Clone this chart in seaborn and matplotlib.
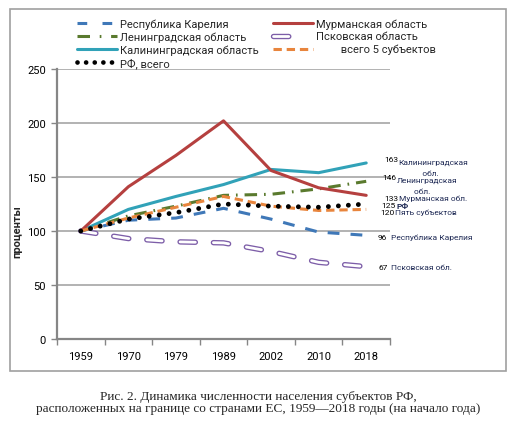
import numpy as np
import pandas as pd
import matplotlib
matplotlib.use("Agg")
import matplotlib.pyplot as plt
from matplotlib.lines import Line2D
from matplotlib.patches import Rectangle
import seaborn as sns

# -------------------------------
# Data (1959 = 100)
# -------------------------------
years = ["1959", "1970", "1979", "1989", "2002", "2010", "2018"]

karelia = [100, 110, 112, 121, 111, 99, 96]
murmansk = [100, 141, 170, 202, 156, 140, 133]
leningrad = [100, 114, 123, 133, 134, 139, 146]
pskov = [100, 93, 90, 89, 81, 71, 67]
kaliningrad = [100, 120, 132, 143, 157, 154, 163]
total5 = [100, 112, 122, 132, 123, 119, 120]
rf = [100, 111, 117, 125, 123, 122, 125]

end_numbers = ["163", "146", "133", "125", "120", "96", "67"]
end_names = ["Калининградская\n           обл.", "Ленинградская\n        обл.",
             "Мурманская обл.", "РФ", "Пять субъектов",
             "Республика Карелия", "Псковская обл."]

# -------------------------------
# Style
# -------------------------------
sns.set_style("white")
plt.rcParams["font.family"] = ["Roboto", "DejaVu Sans"]
plt.rcParams["lines.scale_dashes"] = False

c_blue = "#3f78b8"
c_red = "#b5403f"
c_green = "#5a7a2e"
c_purple = "#7d5ea8"
c_teal = "#31a2b8"
c_orange = "#e8853d"

LW = 2.2

fig = plt.figure(figsize=(5.17, 4.27), dpi=100)
ax = fig.add_axes([57 / 517, 1 - 340 / 427, 333 / 517, 270 / 427])

x = np.arange(len(years))

# Псковская: hollow dashes (purple outline, white core)
sns.lineplot(x=x, y=pskov, ax=ax, color=c_purple, lw=3.9,
             linestyle=(0, (11, 13)), dash_capstyle="round", zorder=2)
sns.lineplot(x=x, y=pskov, ax=ax, color="white", lw=2.0,
             linestyle=(0, (11, 13)), dash_capstyle="round", zorder=2.1)
sns.lineplot(x=x, y=karelia, ax=ax, color=c_blue, lw=LW,
             linestyle=(0, (8.5, 8)), zorder=3)
sns.lineplot(x=x, y=leningrad, ax=ax, color=c_green, lw=LW,
             linestyle=(0, (9, 5, 1.2, 5)), zorder=3)
sns.lineplot(x=x, y=kaliningrad, ax=ax, color=c_teal, lw=LW, zorder=3)
sns.lineplot(x=x, y=murmansk, ax=ax, color=c_red, lw=LW, zorder=3.5)
sns.lineplot(x=x, y=total5, ax=ax, color=c_orange, lw=LW,
             linestyle=(0, (6, 3.5)), zorder=4)
sns.lineplot(x=x, y=rf, ax=ax, color="black", lw=3.5,
             linestyle=(0, (0.01, 7.2)), dash_capstyle="round", zorder=5)

# -------------------------------
# Axes
# -------------------------------
ax.set_xlim(-0.5, len(years) - 0.5)
ax.set_ylim(0, 250)
ax.set_yticks(range(0, 251, 50))
ax.set_xticks(x)
ax.set_xticklabels(years)
ax.set_xticks(np.arange(-0.5, len(years), 1), minor=True)
ax.tick_params(axis="x", which="major", length=0, pad=9, labelsize=8, colors="black")
ax.tick_params(axis="x", which="minor", length=4, width=1, color="#868686", direction="out")
ax.tick_params(axis="y", length=4, width=1, color="#868686", direction="out",
               pad=4, labelsize=8, labelcolor="black")
ax.xaxis.set_ticks_position("bottom")
ax.yaxis.set_ticks_position("left")

ax.grid(axis="y", color="#a6a6a6", lw=1.2)
ax.set_axisbelow(True)
for side in ["top", "right"]:
    ax.spines[side].set_visible(False)
for side in ["left", "bottom"]:
    ax.spines[side].set_color("#868686")
    ax.spines[side].set_linewidth(1.6)
    ax.spines[side].set_zorder(6)

ax.set_xlabel("")
ax.set_ylabel("проценты", fontsize=8, fontweight="bold")
ax.yaxis.set_label_coords(-0.105, 0.40)

# -------------------------------
# Labels at the right
# -------------------------------
label_y = [166.5, 150, 130.5, 124, 117.5, 94.5, 66.5]
label_x = [6.37, 6.33, 6.37, 6.32, 6.29, 6.25, 6.25]
for i in range(len(end_numbers)):
    ax.text(label_x[i], label_y[i], end_numbers[i], fontsize=6, color="black",
            va="center", ha="left", clip_on=False, linespacing=1.9)
    ax.text(label_x[i] + 0.27 + 0.04 * (len(end_numbers[i]) - 2), label_y[i], end_names[i],
            fontsize=6, color="#1f2a55", va="top" if "\n" in end_names[i] else "center",
            ha="left", clip_on=False, linespacing=1.9,
            fontweight="bold" if end_names[i] == "РФ" else "normal")

# -------------------------------
# Legend
# -------------------------------
h_karelia = Line2D([], [], color=c_blue, lw=LW, linestyle=(0, (7, 11)))
h_murmansk = Line2D([], [], color=c_red, lw=LW)
h_leningrad = Line2D([], [], color=c_green, lw=LW, linestyle=(0, (9, 7, 1.2, 7)))
h_pskov = (Line2D([], [], color=c_purple, lw=3.9, linestyle=(0, (11, 19)), dash_capstyle="round"),
           Line2D([], [], color="white", lw=2.0, linestyle=(0, (11, 19)), dash_capstyle="round"))
h_kalin = Line2D([], [], color=c_teal, lw=LW)
h_total = Line2D([], [], color=c_orange, lw=LW, linestyle=(0, (6, 3.5)))
h_rf = Line2D([], [], color="black", lw=3.4, linestyle=(0, (0.01, 6.2)), dash_capstyle="round")

handles = [h_karelia, h_leningrad, h_kalin, h_rf, h_murmansk, h_pskov, h_total]
labels = ["Республика Карелия", "Ленинградская область", "Калининградская область",
          "РФ, всего", "Мурманская область", "Псковская область",
          "         всего 5 субъектов"]
fig.legend(handles, labels, loc="upper left", bbox_to_anchor=(77 / 517, 1 - 19.5 / 427),
           ncol=2, frameon=False, fontsize=8, handlelength=3.6, handletextpad=0.25,
           columnspacing=1.3, labelspacing=0.22, borderpad=0, borderaxespad=0)

# -------------------------------
# Frame and caption
# -------------------------------
fig.patches.append(Rectangle((10 / 517, 1 - 372 / 427), 496 / 517, 362 / 427,
                             transform=fig.transFigure, fill=False,
                             edgecolor="#a0a0a0", lw=1.2))
fig.text(0.5, 1 - 403 / 427,
         "Рис. 2. Динамика численности населения субъектов РФ,\n"
         "расположенных на границе со странами ЕС, 1959—2018 годы (на начало года)",
         ha="center", va="center", fontsize=9.5, family=["Liberation Serif", "DejaVu Serif"],
         linespacing=1.05)

fig.savefig("out.png", dpi=100)
